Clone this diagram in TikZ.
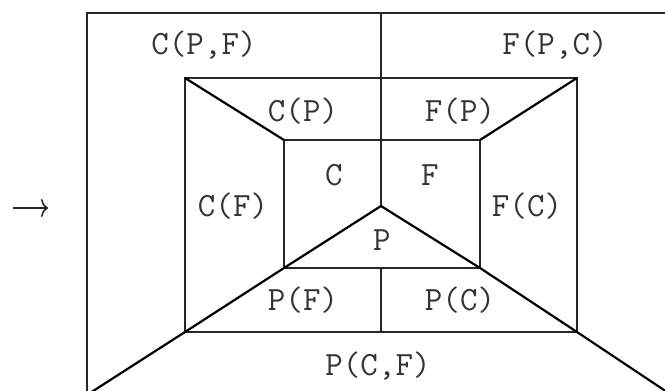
\documentclass[tikz,border=0pt]{standalone}
\usetikzlibrary{arrows.meta}
\begin{document}
\begin{tikzpicture}[x=1pt,y=-1pt,
  frame/.style={draw=black!85,line width=1.6pt},
  diag/.style={draw=black,line width=2.2pt},
  lab/.style={font=\fontsize{34}{36}\selectfont\ttfamily,inner sep=0pt,text=black!80}]
\useasboundingbox (0,0) rectangle (665,391);
\clip (0,0) rectangle (665,391);
% outer frame
\coordinate (OTL) at (87,13);
\coordinate (OBL) at (87,395);
\coordinate (OTR) at (670,13);
\coordinate (OTM) at (381,13);
% middle rectangle
\coordinate (M1) at (185,78);
\coordinate (M2) at (577,78);
\coordinate (M3) at (577,332);
\coordinate (M4) at (185,332);
\coordinate (MB) at (381,332);
% inner rectangle
\coordinate (I1) at (284,140);
\coordinate (I2) at (480,140);
\coordinate (I3) at (480,268);
\coordinate (I4) at (284,268);
\coordinate (IB) at (381,268);
% vertex
\coordinate (V) at (381,206);
% far ends
\coordinate (EL) at (90,393);
\coordinate (ER) at (670,394);
% arrow
\coordinate (A0) at (13,208);
\coordinate (A1) at (48,208);

\draw[frame] (OBL) -- (OTL) -- (OTR);
\draw[frame] (OTM) -- (V);
\draw[frame] (M1) rectangle (M3);
\draw[frame] (I1) rectangle (I3);
\draw[frame] (IB) -- (MB);
\draw[diag] (M1) -- (I1);
\draw[diag] (M2) -- (I2);
\draw[diag] (V) -- (I4) -- (M4) -- (EL);
\draw[diag] (V) -- (I3) -- (M3) -- (ER);

\node[lab] (cpf) at (204,45) {C(P,F)};
\node[lab] (fpc) at (555,45) {F(P,C)};
\node[lab] (cp) at (303,111) {C(P)};
\node[lab] (fp) at (460,111) {F(P)};
\node[lab] (c) at (334,175) {C};
\node[lab] (f) at (430,175) {F};
\node[lab] (cf) at (233,206) {C(F)};
\node[lab] (fc) at (527,206) {F(C)};
\node[lab] (p) at (382,240) {P};
\node[lab] (pf) at (303,300) {P(F)};
\node[lab] (pc) at (460,300) {P(C)};
\node[lab] (pcf) at (378,366) {P(C,F)};
\draw[black!85,line width=1.5pt,-{To[length=7pt,width=18pt,line width=1.5pt]}] (A0) -- (A1);
\end{tikzpicture}
\end{document}
